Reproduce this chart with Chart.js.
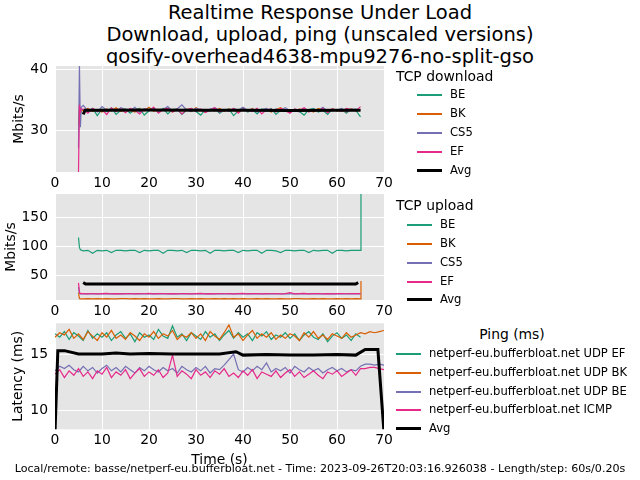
<!DOCTYPE html>
<html>
<head>
<meta charset="utf-8">
<script src="https://cdn.jsdelivr.net/npm/chart.js@4.4.0/dist/chart.umd.min.js"></script>
<style>
  body { margin: 0; width: 640px; height: 480px; background: #fff; position: relative; overflow: hidden;
         font-family: 'DejaVu Sans', sans-serif; color: #000; }
  canvas { position: absolute; left: 0; }
  .txt { position: absolute; white-space: nowrap; }
  .leg-row { position: absolute; white-space: nowrap; font-size: 11.6px; height: 14px; line-height: 14px; }
  .leg-row .ln { position: absolute; left: 0; width: 25px; }
  .leg-row .lab { position: absolute; top: 0; }
</style>
</head>
<body>
<div class="txt" id="title" style="left:0;top:2px;width:640px;text-align:center;font-size:19.5px;line-height:22px;">
  Realtime Response Under Load<br>Download, upload, ping (unscaled versions)<br>qosify-overhead4638-mpu9276-no-split-gso
</div>
<canvas id="dl" width="400" height="132" style="top:60px"></canvas>
<canvas id="ul" width="400" height="128" style="top:192px"></canvas>
<canvas id="ping" width="400" height="149" style="top:320px"></canvas>
<div id="legends"></div>
<div class="txt" style="left:0;top:462px;width:640px;text-align:center;font-size:11.1px;">
  Local/remote: basse/netperf-eu.bufferbloat.net - Time: 2023-09-26T20:03:16.926038 - Length/step: 60s/0.20s
</div>
<script>
// series colours (Dark2) and labels
var colors = ['#1b9e77', '#d95f02', '#7570b3', '#e7298a'];
var tcpLabels = ['BE', 'BK', 'CS5', 'EF'];
var pingLabels = ['netperf-eu.bufferbloat.net UDP EF', 'netperf-eu.bufferbloat.net UDP BK',
                  'netperf-eu.bufferbloat.net UDP BE', 'netperf-eu.bufferbloat.net ICMP'];
var xTicks = [0, 10, 20, 30, 40, 50, 60, 70];

// ---- TCP download (Mbits/s)
var dlTime = [5, 5.2, 5.4, 5.6, 6, 7, 8, 9, 10, 11, 12, 13, 14, 15, 16, 17, 18, 19, 20, 21, 22, 23, 24, 25,
  26, 27, 28, 29, 30, 31, 32, 33, 34, 35, 36, 37, 38, 39, 40, 41, 42, 43, 44, 45, 46, 47, 48, 49, 50,
  51, 52, 53, 54, 55, 56, 57, 58, 59, 60, 61, 62, 63, 64, 65];
var dlBE = [30, 33, 32.5, 33.4,
  33.4, 33.0, 33.6, 32.4, 33.5, 33.1, 33.7, 32.6, 33.3, 33.5, 32.8, 33.4, 33.6, 32.5, 33.2, 33.5, 33.0, 33.6, 32.7, 33.4,
  33.5, 32.6, 33.3, 33.6, 33.1, 32.5, 33.4, 33.2, 33.6, 32.8, 33.3, 33.5, 32.4, 33.2, 33.6, 33.0, 33.4, 32.7, 33.5, 33.2,
  33.6, 32.6, 33.3, 33.4, 32.9, 33.5, 33.1, 32.5, 33.4, 33.6, 33.0, 33.3, 32.6, 33.5, 33.2, 33.4, 32.8, 33.5, 33.3, 32.2];
var dlBK = [31, 33.5, 33, 33.2,
  33.3, 33.6, 33.1, 33.4, 33.0, 33.5, 33.2, 33.7, 33.1, 33.4, 33.3, 33.0, 33.5, 33.2, 33.8, 33.1, 33.4, 33.3, 33.6, 33.0,
  33.4, 33.2, 33.5, 33.1, 33.7, 33.3, 33.0, 33.4, 33.2, 33.6, 33.1, 33.5, 33.3, 33.0, 33.4, 33.2, 33.6, 33.1, 33.3, 33.5,
  33.0, 33.4, 33.7, 33.2, 33.3, 33.1, 33.5, 33.2, 33.4, 33.0, 33.6, 33.3, 33.1, 33.5, 33.2, 33.4, 33.0, 33.5, 33.3, 33.4];
var dlCS5 = [27, 40.8, 30.5, 33.8,
  34.1, 33.2, 33.6, 33.0, 33.9, 33.3, 33.5, 33.1, 33.7, 33.4, 33.2, 33.8, 33.0, 33.5, 33.3, 33.6, 33.1, 33.4, 33.9, 33.2,
  33.5, 34.2, 33.3, 33.1, 33.6, 33.4, 33.0, 33.5, 33.7, 33.2, 33.4, 33.1, 33.6, 33.3, 33.8, 33.2, 33.5, 33.0, 33.4, 33.6,
  33.1, 33.5, 33.3, 33.7, 33.2, 33.4, 33.0, 33.6, 33.3, 33.5, 33.2, 33.8, 33.1, 33.4, 33.3, 33.6, 33.0, 33.4, 33.5, 33.3];
var dlEF = [23, 34.2, 33.0, 33.5,
  33.5, 32.8, 33.6, 33.2, 33.4, 32.6, 33.7, 33.1, 33.5, 32.9, 33.6, 33.3, 32.7, 33.5, 33.2, 33.8, 32.8, 33.4, 33.6, 33.0,
  33.5, 32.7, 33.4, 33.6, 33.1, 33.5, 32.9, 33.3, 33.7, 33.0, 33.4, 33.2, 33.6, 32.8, 33.5, 33.3, 33.1, 33.6, 32.7, 33.4,
  33.5, 33.0, 33.6, 33.2, 32.8, 33.5, 33.3, 33.7, 33.0, 33.4, 33.2, 33.6, 32.9, 33.5, 33.3, 33.1, 33.6, 33.4, 33.2, 33.9];
var dlAvgTime = [6, 6.4, 10, 20, 30, 40, 50, 60, 65];
var dlAvg = [32.6, 33.3, 33.3, 33.35, 33.3, 33.3, 33.25, 33.3, 33.3];
var dlYTicks = [30, 40];

// ---- TCP upload (Mbits/s)
var upTime = [5, 5.2, 5.4, 6, 7, 8, 9, 10, 11, 12, 13, 14, 15, 16, 17, 18, 19, 20, 21, 22, 23, 24, 25,
  26, 27, 28, 29, 30, 31, 32, 33, 34, 35, 36, 37, 38, 39, 40, 41, 42, 43, 44, 45, 46, 47, 48, 49, 50,
  51, 52, 53, 54, 55, 56, 57, 58, 59, 60, 61, 62, 63, 64, 65, 65.1];
var upBE = [115, 98, 94,
  92, 93, 88, 93, 92, 93, 89, 93, 93, 92, 93, 93, 89, 93, 92, 93, 93, 88, 93, 93,
  92, 93, 89, 93, 93, 92, 93, 88, 93, 93, 92, 93, 93, 89, 93, 92, 93, 93, 88, 93,
  93, 92, 89, 93, 93, 92, 93, 93, 89, 93, 92, 93, 93, 88, 93, 93, 92, 93, 93, 93, 190];
var upBK = [20, 10, 9.5,
  9.5, 9.8, 9.3, 9.6, 9.4, 9.7, 9.5, 9.3, 9.6, 9.8, 9.4, 9.6, 9.3, 9.7, 9.5, 9.4, 9.8, 9.5, 9.3, 9.6,
  9.7, 9.4, 9.5, 9.8, 9.3, 9.6, 9.5, 9.4, 9.7, 9.3, 9.6, 9.5, 9.8, 9.4, 9.6, 9.3, 9.5, 9.7, 9.4, 9.6,
  9.5, 9.3, 9.8, 9.5, 9.4, 9.6, 9.7, 9.3, 9.5, 9.6, 9.4, 9.8, 9.5, 9.3, 9.6, 9.4, 9.7, 9.5, 9.6, 9.5, 40];
var upCS5 = [30, 19, 18,
  18.2, 17.8, 18.4, 18.0, 17.7, 18.3, 18.1, 17.9, 18.5, 18.0, 18.2, 17.8, 18.3, 18.1, 17.7, 18.4, 18.0, 18.2, 17.9, 18.3,
  18.1, 17.8, 18.4, 18.0, 18.2, 17.7, 18.3, 18.1, 17.9, 18.5, 18.0, 18.2, 17.8, 18.3, 18.1, 17.9, 18.4, 18.0, 18.2, 17.8,
  18.3, 18.1, 17.7, 18.4, 18.0, 18.2, 17.9, 18.3, 18.1, 17.8, 18.4, 18.0, 18.2, 17.9, 18.3, 18.1, 17.8, 18.2, 18.0, 18.1, 18.1];
var upEF = [37, 21, 18.5,
  18.4, 18.0, 18.6, 17.9, 18.3, 18.7, 18.1, 18.5, 17.9, 18.4, 18.6, 18.0, 18.5, 18.2, 18.7, 17.9, 18.4, 18.6, 18.1, 18.5,
  18.0, 18.6, 18.3, 17.9, 18.5, 18.7, 18.1, 18.4, 18.0, 18.6, 18.2, 18.5, 17.9, 18.4, 18.7, 18.1, 18.3, 18.6, 18.0, 18.5,
  18.2, 18.6, 18.0, 18.4, 20.0, 18.1, 18.5, 18.7, 18.0, 18.4, 18.6, 18.1, 18.5, 17.9, 18.4, 18.6, 18.2, 18.5, 18.3, 18.4, 18.4];
var upAvgTime = [6, 6.5, 10, 20, 30, 40, 50, 60, 64, 64.5];
var upAvg = [37.5, 35, 34.8, 34.8, 34.8, 34.8, 34.8, 34.8, 35, 37.5];
var upYTicks = [50, 100, 150];

// ---- Ping (ms)
var pTime = [0, 1, 2, 3, 4, 5, 6, 7, 8, 9, 10, 11, 12, 13, 14, 15, 16, 17, 18, 19, 20, 21, 22, 23, 24, 25,
  26, 27, 28, 29, 30, 31, 32, 33, 34, 35, 36, 37, 38, 39, 40, 41, 42, 43, 44, 45, 46, 47, 48, 49, 50,
  51, 52, 53, 54, 55, 56, 57, 58, 59, 60, 61, 62, 63, 64, 65, 66, 67, 68, 69, 70];
var pingEF = [16.8, 16.5, 17.0, 16.3, 16.9, 16.6, 16.2, 17.1, 16.4, 16.8, 16.5, 16.9, 16.2, 16.7, 17.0, 16.4, 16.8, 16.1,
  16.9, 16.5, 16.7, 16.3, 17.2, 16.6, 16.4, 17.5, 16.5, 16.8, 16.2, 16.9, 16.6, 16.3, 17.0, 16.5, 16.8, 16.2, 16.7, 17.1,
  16.4, 16.9, 16.5, 16.8, 16.2, 16.9, 16.6, 17.0, 16.3, 16.7, 16.5, 16.9, 16.4, 16.8, 16.2, 16.7, 17.0, 16.5, 16.3, 16.8,
  16.1, 16.6, 16.9, 16.4, 16.7, 16.2, 16.8, 16.5, null, null, null, null, null];
var pingBK = [16.5, 16.9, 16.7, 17.2, 16.4, 16.8, 16.3, 17.0, 16.6, 16.2, 16.9, 16.5, 17.1, 16.4, 16.7, 16.3, 16.9, 16.6,
  16.2, 16.8, 16.5, 17.0, 16.4, 16.8, 16.6, 17.1, 16.3, 16.7, 16.5, 16.9, 16.4, 16.8, 16.2, 17.0, 16.6, 16.3, 16.9, 17.6,
  16.5, 16.8, 16.2, 16.7, 17.1, 16.4, 16.8, 16.5, 16.9, 16.3, 16.7, 16.4, 16.8, 16.6, 16.2, 16.9, 16.5, 17.0, 16.4, 16.7,
  16.3, 16.8, 16.6, 16.4, 16.9, 16.5, 16.7, 16.9, 16.8, 17.0, 16.9, 17.0, 17.1];
var pingBE = [13.5, 13.9, 13.7, 14.0, 13.6, 13.4, 13.9, 13.5, 13.8, 13.3, 13.7, 14.0, 13.5, 13.8, 13.4, 13.9, 13.6, 13.3,
  13.8, 13.5, 13.9, 13.6, 13.4, 13.8, 13.5, 13.7, 13.3, 13.9, 13.6, 13.4, 13.8, 13.5, 13.9, 13.3, 13.7, 13.6, 14.0, 14.5,
  15.0, 13.6, 13.4, 13.8, 13.5, 13.9, 13.6, 14.2, 13.4, 13.7, 13.5, 13.8, 13.3, 13.9, 13.6, 13.4, 13.8, 13.5, 13.7, 13.3,
  13.6, 13.8, 13.5, 13.7, 13.4, 13.6, 13.5, 13.9, 14.1, 14.1, 14.0, 14.1, 14.0];
var pingICMP = [13.2, 13.6, 12.9, 13.5, 13.1, 13.7, 13.0, 13.4, 12.8, 13.5, 13.2, 13.8, 12.9, 13.4, 13.1, 13.6, 12.8, 13.3,
  13.7, 13.0, 13.4, 13.1, 13.6, 12.9, 13.3, 14.9, 13.0, 13.5, 13.2, 12.8, 13.6, 13.1, 13.4, 12.9, 13.5, 13.2, 13.7, 13.0,
  13.3, 12.9, 13.5, 13.1, 13.6, 12.8, 13.4, 13.2, 13.0, 13.5, 12.9, 13.3, 13.6, 13.0, 13.4, 12.9, 13.2, 13.5, 13.1, 12.8,
  13.4, 13.2, 13.5, 13.0, 13.3, 13.6, 13.1, 13.7, 13.7, 13.8, 13.8, 13.7, 13.6];
var pAvgTime = [0, 0.6, 2, 5, 10, 13, 16, 20, 25, 30, 35, 38.5, 40, 45, 50, 55, 60, 64, 66, 68.7, 70];
var pAvg = [8, 15.3, 15.3, 15.0, 15.0, 15.1, 15.0, 15.05, 15.0, 15.0, 15.0, 15.2, 14.9, 14.95, 14.9, 14.9, 14.95, 14.9,
  15.4, 15.4, 8];
var pYTicks = [10, 15];

function pts(t, v) {
  return t.map(function (x, i) { return { x: x, y: v[i] }; });
}

function lines(time, series, avgTime, avg) {
  var ds = series.map(function (v, i) {
    return { data: pts(time, v), borderColor: colors[i], borderWidth: 1.2, order: 4 - i };
  });
  ds.push({ data: pts(avgTime, avg), borderColor: '#000', borderWidth: 3, order: 0 });
  return ds;
}

// grey plot background like the ggplot style
var bgPlugin = {
  id: 'bg',
  beforeDraw: function (chart) {
    var a = chart.chartArea, ctx = chart.ctx;
    ctx.save();
    ctx.fillStyle = '#e5e5e5';
    ctx.fillRect(a.left, a.top, a.right - a.left, a.bottom - a.top);
    ctx.restore();
  }
};

function makeChart(id, datasets, yMin, yMax, yTicks, yTitle, titlePad, padTop, xHeight, xTitle) {
  var tickFont = { family: 'DejaVu Sans', size: 13.9 };
  return new Chart(document.getElementById(id), {
    type: 'line',
    data: { datasets: datasets },
    plugins: [bgPlugin],
    options: {
      responsive: false,
      animation: false,
      elements: { point: { radius: 0 }, line: { tension: 0 } },
      layout: { padding: { left: 0, right: 16, top: padTop, bottom: 0 } },
      plugins: { legend: { display: false }, tooltip: { enabled: false } },
      scales: {
        x: {
          type: 'linear', min: 0, max: 70,
          afterBuildTicks: function (s) { s.ticks = xTicks.map(function (v) { return { value: v }; }); },
          afterFit: function (s) { s.height = xHeight; s.paddingLeft = 0; s.paddingRight = 0; },
          ticks: { font: tickFont, color: '#000', padding: 3, maxRotation: 0 },
          grid: { color: '#fff', lineWidth: 1, drawTicks: false },
          border: { display: false },
          title: { display: !!xTitle, text: xTitle || '', font: tickFont, color: '#000', padding: 0 }
        },
        y: {
          min: yMin, max: yMax,
          afterBuildTicks: function (s) { s.ticks = yTicks.map(function (v) { return { value: v }; }); },
          afterFit: function (s) { s.width = 55; s.paddingTop = 0; s.paddingBottom = 0; },
          ticks: { font: tickFont, color: '#000', padding: 7 },
          grid: { color: '#fff', lineWidth: 1, drawTicks: false },
          border: { display: false },
          title: { display: true, text: yTitle, font: tickFont, color: '#000', padding: { top: titlePad, bottom: 0 } }
        }
      }
    }
  });
}

makeChart('dl', lines(dlTime, [dlBE, dlBK, dlCS5, dlEF], dlAvgTime, dlAvg), 23.1, 40.6, dlYTicks, 'Mbits/s', 11, 6, 20);
makeChart('ul', lines(upTime, [upBE, upBK, upCS5, upEF], upAvgTime, upAvg), 7.4, 190, upYTicks, 'Mbits/s', 3, 2, 20);
makeChart('ping', lines(pTime, [pingEF, pingBK, pingBE, pingICMP], pAvgTime, pAvg), 8.28, 17.74, pYTicks, 'Latency (ms)', 10, 3.3, 39.7, 'Time (s)');

// legends to the right of each plot
function legend(title, titleX, titleY, titleCenter, labels, lineX, textX, rowY) {
  var box = document.getElementById('legends');
  var t = document.createElement('div');
  t.className = 'txt';
  t.style.fontSize = '13.9px';
  t.style.top = (titleY - 8.5) + 'px';
  if (titleCenter) { t.style.left = (titleX - 100) + 'px'; t.style.width = '200px'; t.style.textAlign = 'center'; }
  else t.style.left = titleX + 'px';
  t.textContent = title;
  box.appendChild(t);
  labels.concat(['Avg']).forEach(function (lab, i) {
    var r = document.createElement('div');
    r.className = 'leg-row';
    r.style.left = lineX + 'px';
    r.style.top = (Math.round(rowY[i]) - 7) + 'px';
    var avg = lab === 'Avg';
    var ln = document.createElement('div');
    ln.className = 'ln';
    ln.style.height = avg ? '3px' : '2px';
    ln.style.top = avg ? '6px' : '7px';
    ln.style.background = avg ? '#000' : colors[i];
    var tx = document.createElement('span');
    tx.className = 'lab';
    tx.style.left = (textX - lineX) + 'px';
    tx.textContent = lab;
    r.appendChild(ln);
    r.appendChild(tx);
    box.appendChild(r);
  });
}
legend('TCP download', 396, 76, false, tcpLabels, 417, 450, [94, 113, 132, 151, 170]);
legend('TCP upload', 396, 205, false, tcpLabels, 407, 440, [224, 243, 262, 281, 299]);
legend('Ping (ms)', 512, 334, true, pingLabels, 396, 429, [353, 372, 391, 409, 428]);
</script>
</body>
</html>
